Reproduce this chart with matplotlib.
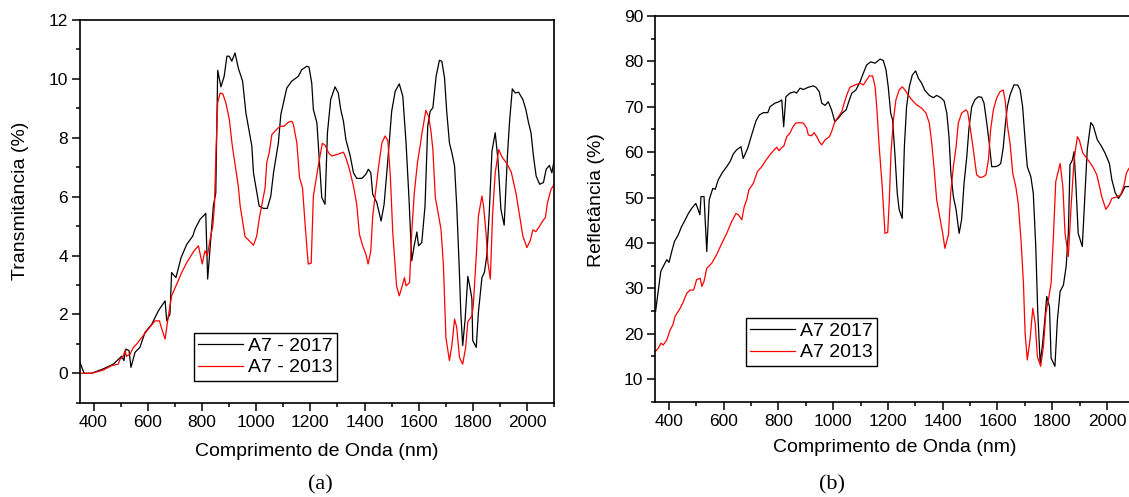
import matplotlib
matplotlib.use('Agg')
import matplotlib.pyplot as plt
from matplotlib.ticker import MultipleLocator

plt.rcParams['font.family'] = ['Liberation Sans', 'DejaVu Sans']

# ---------------- (a) Transmitância ----------------
trans_2017_nm = [350, 365, 393, 436, 473, 504, 512, 519, 531, 538, 553, 571, 590, 615, 639, 664, 670, 682,
                 688, 704, 723, 744, 766, 775, 793, 814, 821, 842, 851, 858, 870, 882, 892, 901, 910, 922,
                 934, 950, 962, 984, 990, 1011, 1027, 1041, 1054, 1064, 1082, 1091, 1113, 1131, 1156, 1168,
                 1187, 1195, 1205, 1211, 1224, 1242, 1254, 1263, 1275, 1291, 1303, 1312, 1322, 1331, 1347,
                 1359, 1371, 1390, 1405, 1414, 1423, 1430, 1445, 1461, 1472, 1484, 1500, 1513, 1528, 1541,
                 1553, 1564, 1574, 1583, 1593, 1599, 1611, 1623, 1633, 1642, 1652, 1664, 1676, 1685, 1695,
                 1703, 1713, 1722, 1732, 1740, 1749, 1755, 1762, 1771, 1781, 1790, 1796, 1799, 1812, 1820,
                 1833, 1842, 1851, 1860, 1870, 1882, 1892, 1898, 1903, 1915, 1927, 1935, 1945, 1956, 1968,
                 1984, 1995, 2005, 2014, 2023, 2033, 2046, 2060, 2070, 2082, 2091, 2100]
trans_2017 = [0.37, 0.0, 0.0, 0.15, 0.31, 0.58, 0.43, 0.82, 0.77, 0.2, 0.71, 0.88, 1.39, 1.67, 2.12, 2.46, 1.78, 2.01,
              3.42, 3.25, 3.93, 4.38, 4.66, 4.91, 5.23, 5.43, 3.2, 5.68, 6.13, 10.29, 9.73, 10.09, 10.77, 10.77, 10.6, 10.88,
              10.37, 9.92, 8.85, 7.72, 6.81, 5.68, 5.6, 5.6, 6.02, 6.81, 7.83, 8.79, 9.69, 9.92, 10.09, 10.31,
              10.43, 10.4, 9.86, 8.96, 8.51, 5.97, 5.74, 8.17, 9.3, 9.73, 9.52, 8.96, 8.56, 7.94, 7.38,
              6.81, 6.62, 6.62, 6.76, 6.93, 6.81, 6.08, 5.8, 5.17, 5.74, 7.04, 8.9, 9.58, 9.83, 9.41,
              7.83, 5.91, 3.82, 4.33, 4.8, 4.33, 4.44, 5.68, 8.39, 8.9, 9.02, 10.09, 10.63, 10.6, 10.03,
              8.9, 7.83, 7.49, 7.04, 5.68, 3.65, 2.07, 0.94, 1.84, 3.29, 2.86, 2.52, 1.11, 0.88, 2.07,
              3.25, 3.42, 3.99, 5.46, 7.55, 8.17, 7.26, 6.36, 5.57, 5.03, 7.38, 8.56, 9.66, 9.52, 9.55,
              9.3, 8.96, 8.51, 8.17, 7.38, 6.7, 6.42, 6.48, 6.93, 7.06, 6.81, 7.26]

trans_2013_nm = [350, 393, 436, 467, 491, 498, 508, 516, 522, 535, 547, 559, 578, 602, 627, 643, 654, 664,
                 676, 688, 707, 725, 744, 771, 787, 801, 811, 820, 830, 840, 846, 852, 858, 867, 877, 888,
                 901, 912, 925, 934, 941, 953, 959, 971, 990, 1002, 1012, 1027, 1033, 1039, 1048, 1058, 1072,
                 1088, 1103, 1119, 1131, 1137, 1150, 1160, 1171, 1181, 1192, 1203, 1211, 1230, 1244, 1254,
                 1267, 1279, 1298, 1322, 1331, 1344, 1359, 1371, 1381, 1393, 1405, 1413, 1423, 1430, 1443,
                 1451, 1464, 1476, 1486, 1495, 1504, 1518, 1528, 1539, 1547, 1553, 1566, 1574, 1583, 1595,
                 1602, 1612, 1626, 1636, 1645, 1652, 1661, 1669, 1682, 1691, 1700, 1713, 1722, 1732, 1740,
                 1750, 1762, 1773, 1781, 1796, 1801, 1810, 1820, 1833, 1839, 1848, 1855, 1864, 1872, 1882,
                 1895, 1907, 1925, 1941, 1959, 1972, 1984, 1999, 2011, 2021, 2032, 2046, 2057, 2067, 2075,
                 2088, 2100]
trans_2013 = [0.0, 0.0, 0.11, 0.26, 0.31, 0.48, 0.54, 0.77, 0.58, 0.65, 0.88, 0.99, 1.22, 1.5, 1.78, 1.78, 1.44, 1.16,
              1.95, 2.63, 3.03, 3.42, 3.76, 4.16, 4.33, 3.71, 4.16, 3.99, 4.55, 5.0, 5.68, 7.6, 9.19, 9.52, 9.49, 9.19,
              8.62, 7.72, 6.93, 6.36, 5.68, 5.0, 4.64, 4.53, 4.35, 4.66, 5.29, 6.02, 6.3, 7.15, 7.49, 8.11, 8.25,
              8.39, 8.39, 8.53, 8.56, 8.47, 7.83, 6.64, 6.3, 5.0, 3.71, 3.74, 6.02, 7.09, 7.81, 7.75,
              7.49, 7.38, 7.43, 7.51, 7.32, 6.93, 6.36, 5.74, 4.72, 4.33, 4.04, 3.71, 4.16, 5.34, 6.36,
              6.98, 7.83, 8.06, 7.89, 6.7, 4.78, 2.97, 2.63, 2.97, 3.25, 2.97, 3.08, 4.78, 6.08, 7.15,
              7.55, 8.17, 8.93, 8.73, 8.22, 7.6, 5.97, 5.57, 4.89, 3.65, 1.22, 0.43, 0.94, 1.84, 1.56,
              0.54, 0.31, 0.88, 1.75, 1.95, 2.29, 3.65, 5.34, 6.02, 5.68, 4.78, 3.76, 3.2, 5.34, 6.81,
              7.6, 7.35, 7.12, 6.84, 6.1, 5.34, 4.66, 4.27, 4.5, 4.87, 4.81, 5.0, 5.17, 5.29, 5.8,
              6.25, 6.42]

# ---------------- (b) Refletância ----------------
refl_2017_nm = [351, 361, 370, 379, 392, 400, 410, 420, 434, 446, 456, 471, 483, 498, 505, 513, 517, 528,
                538, 547, 560, 569, 580, 595, 611, 623, 635, 647, 663, 671, 688, 702, 718, 730, 745, 761,
                769, 787, 802, 812, 819, 827, 842, 858, 866, 879, 891, 909, 927, 937, 949, 958, 970, 982,
                994, 1006, 1019, 1033, 1047, 1059, 1068, 1083, 1098, 1110, 1122, 1137, 1153, 1171, 1183,
                1193, 1201, 1210, 1217, 1226, 1234, 1241, 1252, 1260, 1268, 1278, 1289, 1301, 1311, 1323,
                1335, 1351, 1366, 1378, 1393, 1405, 1415, 1423, 1430, 1439, 1449, 1460, 1469, 1478, 1488,
                1496, 1506, 1518, 1530, 1542, 1551, 1561, 1570, 1579, 1591, 1603, 1612, 1621, 1628, 1636,
                1646, 1660, 1674, 1683, 1692, 1701, 1709, 1722, 1731, 1740, 1747, 1756, 1764, 1773, 1780,
                1790, 1796, 1810, 1819, 1829, 1841, 1851, 1859, 1865, 1874, 1880, 1887, 1895, 1910, 1920,
                1928, 1941, 1950, 1965, 1981, 1993, 2009, 2018, 2030, 2042, 2054, 2066, 2080, 2100]
refl_2017 = [24.9, 29.6, 33.7, 34.8, 36.3, 35.7, 38.1, 40.3, 41.8, 43.6, 44.7, 46.5, 47.6, 48.7, 47.6, 46.2, 50.2, 50.2,
             38.1, 49.5, 52.0, 51.8, 53.9, 55.5, 56.8, 57.9, 59.6, 60.5, 61.2, 58.6, 60.9, 63.8, 66.9, 68.2, 68.7, 68.7,
             70.0, 70.8, 71.1, 71.5, 65.6, 72.2, 73.0, 73.3, 73.0, 74.1, 73.8, 74.3, 74.6, 74.3, 73.3, 70.8, 70.3, 71.1,
             69.3, 66.7, 67.5, 68.6, 69.3, 71.5, 73.0, 73.7, 75.5, 77.4, 79.2, 79.9, 79.6, 80.5, 80.2,
             78.1, 74.4, 68.6, 67.1, 59.0, 50.9, 47.3, 45.4, 61.2, 70.0, 74.4, 77.0, 77.9, 76.3, 75.2,
             73.6, 72.5, 72.0, 72.5, 72.0, 71.3, 68.6, 63.4, 55.3, 50.2, 47.3, 42.1, 45.1, 53.1, 59.0,
             65.3, 70.0, 71.6, 72.2, 72.1, 70.8, 66.4, 62.0, 56.8, 56.8, 57.0, 57.5, 60.9, 65.6, 70.0,
             72.6, 74.8, 74.8, 73.7, 70.0, 62.7, 56.8, 54.6, 50.9, 39.2, 25.2, 13.5, 17.2, 23.0, 28.2,
             26.0, 14.6, 12.8, 23.0, 29.3, 30.7, 34.8, 42.1, 57.2, 58.3, 60.1, 52.4, 42.1, 39.2, 50.9,
             60.5, 66.5, 65.8, 62.7, 61.2, 59.8, 57.5, 53.9, 51.1, 49.8, 50.9, 52.4, 52.4, 52.5]

refl_2013_nm = [351, 361, 371, 379, 392, 404, 414, 422, 441, 453, 465, 477, 490, 501, 514, 520, 528, 538,
                556, 574, 593, 611, 629, 645, 653, 666, 675, 684, 692, 708, 723, 739, 755, 769, 784, 794,
                802, 812, 820, 830, 842, 852, 863, 879, 891, 903, 909, 921, 930, 940, 949, 958, 970, 986,
                994, 1006, 1019, 1031, 1040, 1052, 1061, 1079, 1098, 1110, 1122, 1132, 1144, 1153, 1159,
                1168, 1179, 1189, 1199, 1205, 1211, 1220, 1229, 1241, 1252, 1262, 1274, 1286, 1305, 1323,
                1339, 1351, 1360, 1368, 1378, 1390, 1400, 1408, 1421, 1429, 1439, 1449, 1457, 1469, 1484,
                1491, 1500, 1512, 1524, 1537, 1549, 1558, 1567, 1575, 1585, 1597, 1609, 1621, 1628, 1637,
                1646, 1656, 1667, 1676, 1686, 1695, 1701, 1709, 1719, 1729, 1738, 1746, 1758, 1768, 1777,
                1786, 1796, 1805, 1813, 1829, 1839, 1847, 1859, 1869, 1880, 1892, 1899, 1912, 1926, 1948,
                1963, 1973, 1981, 1996, 2008, 2018, 2034, 2050, 2062, 2071, 2080, 2100]
refl_2013 = [16.1, 16.8, 17.9, 17.5, 18.6, 20.8, 21.9, 23.8, 25.6, 27.1, 28.9, 29.6, 29.6, 31.9, 32.2, 30.4, 31.5, 34.4,
             35.5, 37.4, 39.9, 42.1, 44.7, 46.5, 46.2, 45.1, 48.0, 49.5, 51.7, 53.1, 55.7, 56.8, 58.3, 59.4, 60.5, 61.1,
             60.3, 61.0, 61.4, 63.4, 64.2, 65.5, 66.4, 66.5, 66.4, 65.3, 63.8, 63.6, 64.3, 63.4, 62.3, 61.6, 62.7, 63.4,
             64.5, 66.7, 67.8, 68.9, 70.8, 73.0, 74.3, 74.8, 75.2, 74.8, 75.9, 76.8, 76.8, 74.4, 70.0,
             61.2, 52.4, 42.1, 42.3, 49.5, 59.8, 67.1, 71.5, 73.7, 74.4, 73.7, 72.6, 71.6, 70.4, 69.7,
             68.6, 66.4, 62.0, 56.8, 49.5, 45.4, 42.1, 38.8, 41.8, 50.9, 56.8, 61.2, 66.4, 68.6, 69.3,
             68.9, 65.6, 60.5, 55.0, 54.4, 54.6, 55.0, 58.3, 64.9, 69.3, 71.9, 73.3, 73.7, 71.5, 65.6,
             62.0, 55.3, 52.4, 48.7, 40.7, 31.1, 20.1, 14.2, 18.6, 25.6, 22.3, 14.9, 12.8, 17.2, 24.5,
             27.4, 31.1, 42.1, 53.5, 57.5, 52.4, 42.1, 37.0, 48.0, 58.3, 63.4, 62.7, 59.8, 58.7, 56.8,
             55.0, 52.4, 50.2, 47.4, 48.4, 49.8, 50.1, 50.6, 52.6, 55.3, 56.4, 57.0]

labels_a = ['A7 - 2017', 'A7 - 2013']
labels_b = ['A7 2017', 'A7 2013']
x_ticks = [400, 600, 800, 1000, 1200, 1400, 1600, 1800, 2000]

W, H = 1129, 497
fig = plt.figure(figsize=(W / 100, H / 100), dpi=100)
ax1 = fig.add_axes([80 / W, 1 - 402.7 / H, 474.3 / W, 382.7 / H])
ax2 = fig.add_axes([655.3 / W, 1 - 401.7 / H, 479 / W, 385.7 / H])

lw = 0.9
l1, = ax1.plot(trans_2017_nm, trans_2017, color='black', lw=lw)
l2, = ax1.plot(trans_2013_nm, trans_2013, color='red', lw=lw)
r1, = ax2.plot(refl_2017_nm, refl_2017, color='black', lw=lw)
r2, = ax2.plot(refl_2013_nm, refl_2013, color='red', lw=lw)

for ax in (ax1, ax2):
    ax.set_xlim(350, 2100)
    ax.set_xticks(x_ticks)
    ax.xaxis.set_minor_locator(MultipleLocator(100))
    for s in ax.spines.values():
        s.set_linewidth(1.2)
    ax.tick_params(which='both', direction='out', width=1.1, labelsize=12.5,
                   top=False, right=False, pad=3)
    ax.tick_params(which='major', length=5.5)
    ax.tick_params(which='minor', length=3)

ax1.set_ylim(-1, 12)
ax1.set_yticks([0, 2, 4, 6, 8, 10, 12])
ax1.yaxis.set_minor_locator(MultipleLocator(1))
ax2.set_ylim(5, 90)
ax2.set_yticks([10, 20, 30, 40, 50, 60, 70, 80, 90])
ax2.yaxis.set_minor_locator(MultipleLocator(5))

ax1.set_xlabel('Comprimento de Onda (nm)', fontsize=14)
ax1.set_ylabel('Transmitância (%)', fontsize=14)
ax2.set_xlabel('Comprimento de Onda (nm)', fontsize=14)
ax2.set_ylabel('Refletância (%)', fontsize=14)
ax1.xaxis.set_label_coords(0.5, -0.105)
ax2.xaxis.set_label_coords(0.5, -0.097)
ax1.yaxis.set_label_coords(-0.108, 0.527)
ax2.yaxis.set_label_coords(-0.105, 0.524)

leg_kw = dict(loc='upper left', bbox_transform=fig.transFigure, frameon=True, fancybox=False,
              edgecolor='black', framealpha=1, borderaxespad=0, fontsize=14, borderpad=0.22,
              labelspacing=0.2, handlelength=2.3, handletextpad=0.25)
lg1 = ax1.legend([l1, l2], labels_a, bbox_to_anchor=(194 / W, 1 - 333 / H), **leg_kw)
lg2 = ax2.legend([r1, r2], labels_b, bbox_to_anchor=(746 / W, 1 - 318 / H), **leg_kw)
for lg in (lg1, lg2):
    lg.get_frame().set_linewidth(1.0)

fig.text(320 / W, 1 - 485 / H, '(a)', ha='center', va='center', fontsize=16, family='Liberation Serif')
fig.text(832 / W, 1 - 485 / H, '(b)', ha='center', va='center', fontsize=16, family='Liberation Serif')

fig.savefig('out.png', dpi=100)
